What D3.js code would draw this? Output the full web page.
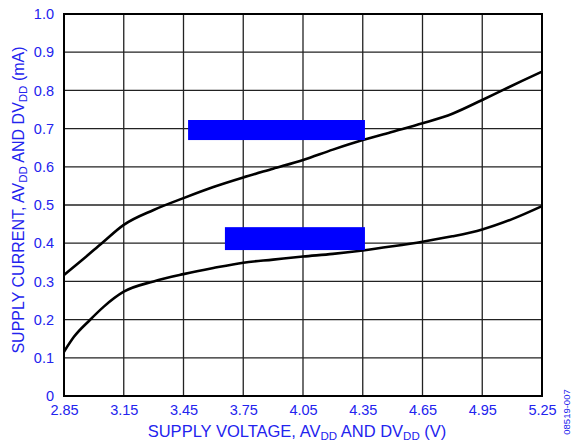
<!DOCTYPE html>
<html>
<head>
<meta charset="utf-8">
<script src="https://cdn.jsdelivr.net/npm/d3@7"></script>
<style>
  body { margin: 0; background: #fff; }
  svg { display: block; font-family: "Liberation Sans", Arial, sans-serif; }
</style>
</head>
<body>
<div id="chart"></div>
<script>
// supply current vs supply voltage
const upperVolts = [2.85, 2.95, 3.04, 3.15, 3.30, 3.45, 3.60, 3.75, 3.90, 4.05, 4.20, 4.35, 4.50, 4.65, 4.80, 4.95, 5.05, 5.15, 5.25];
const upperAmps  = [0.317, 0.36, 0.40, 0.448, 0.487, 0.518, 0.547, 0.572, 0.595, 0.618, 0.645, 0.670, 0.692, 0.714, 0.739, 0.775, 0.80, 0.825, 0.849];
const lowerVolts = [2.85, 2.90, 2.98, 3.05, 3.15, 3.30, 3.45, 3.60, 3.75, 3.90, 4.05, 4.20, 4.35, 4.50, 4.65, 4.80, 4.95, 5.10, 5.25];
const lowerAmps  = [0.116, 0.155, 0.199, 0.234, 0.273, 0.300, 0.319, 0.335, 0.349, 0.357, 0.365, 0.372, 0.381, 0.392, 0.404, 0.418, 0.436, 0.463, 0.497];
const xTicks = [2.85, 3.15, 3.45, 3.75, 4.05, 4.35, 4.65, 4.95, 5.25];
const yTicks = [0, 0.1, 0.2, 0.3, 0.4, 0.5, 0.6, 0.7, 0.8, 0.9, 1.0];
// blue label boxes [x0, x1, y0, y1] in data units
const labelBoxes = [[3.473, 4.361, 0.670, 0.7225], [3.658, 4.361, 0.382, 0.442]];

const width = 573, height = 447;
const margin = {top: 14, right: 31, bottom: 51, left: 64};
const blue = "#2323ee";

const svg = d3.select("#chart").append("svg").attr("width", width).attr("height", height);

var x = d3.scaleLinear().domain([2.85, 5.25]).range([margin.left, width - margin.right]);
var y = d3.scaleLinear().domain([0, 1]).range([height - margin.bottom, margin.top]);

// grid
svg.append("g")
  .selectAll("line")
  .data(xTicks.slice(1, -1))
  .join("line")
  .attr("x1", d => x(d)).attr("x2", d => x(d))
  .attr("y1", y(0)).attr("y2", y(1))
  .attr("stroke", "#222").attr("stroke-width", 1.3);

svg.append("g")
  .selectAll("line")
  .data(yTicks.slice(1, -1))
  .join("line")
  .attr("x1", x(2.85)).attr("x2", x(5.25))
  .attr("y1", d => y(d)).attr("y2", d => y(d))
  .attr("stroke", "#222").attr("stroke-width", 1.3);

svg.append("rect")
  .attr("x", x(2.85)).attr("y", y(1))
  .attr("width", x(5.25) - x(2.85)).attr("height", y(0) - y(1))
  .attr("fill", "none").attr("stroke", "#000").attr("stroke-width", 2);

// axes (labels only)
var xAxis = g => g
  .attr("transform", `translate(0,${y(0)})`)
  .call(d3.axisBottom(x).tickValues(xTicks).tickSize(0).tickPadding(9).tickFormat(d3.format(".2f")))
  .call(g => g.select(".domain").remove());

var yAxis = g => g
  .attr("transform", `translate(${margin.left},0)`)
  .call(d3.axisLeft(y).tickValues(yTicks).tickSize(0).tickPadding(10).tickFormat(d => d === 0 ? "0" : d3.format(".1f")(d)))
  .call(g => g.select(".domain").remove());

svg.append("g").call(xAxis);
svg.append("g").call(yAxis);
svg.selectAll(".tick text")
  .attr("fill", blue)
  .style("font-size", "14.5px")
  .style("font-family", "Liberation Sans, Arial, sans-serif");

// curves
var line = d3.line()
  .x(d => x(d[0]))
  .y(d => y(d[1]))
  .curve(d3.curveMonotoneX);

const series = [d3.zip(upperVolts, upperAmps), d3.zip(lowerVolts, lowerAmps)];
svg.append("g")
  .attr("fill", "none")
  .attr("stroke", "#000")
  .attr("stroke-width", 2.6)
  .attr("stroke-linejoin", "round")
  .selectAll("path")
  .data(series)
  .join("path")
  .attr("d", line);

svg.append("g")
  .selectAll("rect")
  .data(labelBoxes)
  .join("rect")
  .attr("x", d => x(d[0]))
  .attr("y", d => y(d[3]))
  .attr("width", d => x(d[1]) - x(d[0]))
  .attr("height", d => y(d[2]) - y(d[3]))
  .attr("fill", "#0000ff");

// axis titles
function title(sel, main, unit) {
  sel.append("tspan").text(main + ", AV");
  sel.append("tspan").attr("dy", 3).style("font-size", "11.5px").text("DD");
  sel.append("tspan").attr("dy", -3).text(" AND DV");
  sel.append("tspan").attr("dy", 3).style("font-size", "11.5px").text("DD");
  sel.append("tspan").attr("dy", -3).text(" (" + unit + ")");
}

svg.append("text")
  .attr("x", 297)
  .attr("y", 437)
  .attr("text-anchor", "middle")
  .attr("fill", blue)
  .style("font-size", "16.5px")
  .call(title, "SUPPLY VOLTAGE", "V");

svg.append("text")
  .attr("transform", "translate(24,200) rotate(-90)")
  .attr("text-anchor", "middle")
  .attr("fill", blue)
  .style("font-size", "16px")
  .call(title, "SUPPLY CURRENT", "mA");

svg.append("text")
  .attr("transform", "translate(570,412) rotate(-90)")
  .attr("text-anchor", "middle")
  .attr("fill", blue)
  .style("font-size", "9.5px")
  .text("08519-007");
</script>
</body>
</html>
